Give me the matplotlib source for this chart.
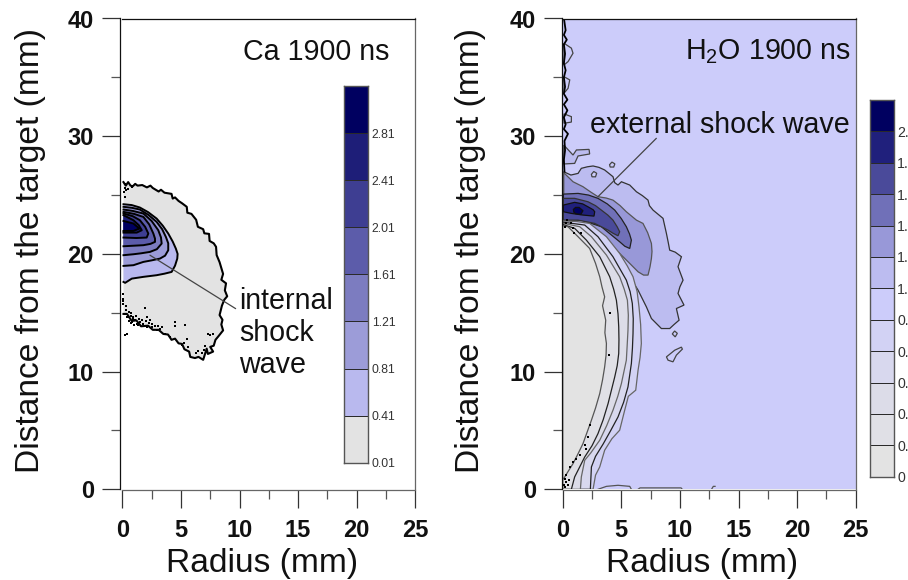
import numpy as np
import matplotlib
matplotlib.use('Agg')
import matplotlib.pyplot as plt

plt.rcParams['font.family'] = ['Liberation Sans', 'DejaVu Sans']
plt.rcParams['mathtext.default'] = 'regular'

# Ca panel : contours (radius mm, distance mm)
ca_edge = np.array([(.1, 26.1), (.3, 25.8), (.5, 26.1), (.7, 25.8), (.9, 25.75), (1.1, 25.95), (1.3, 25.8), (1.7, 25.85), (2.1, 25.65),
                    (2.4, 25.8), (2.6, 25.6), (3.1, 25.3), (3.3, 25.45), (3.6, 25.2), (4.2, 25.1), (4.3, 24.7), (4.5, 24.8), (4.8, 24.5),
                    (5.1, 24.3), (5.5, 24.0), (5.55, 23.5), (5.9, 23.4), (6.3, 22.9), (6.45, 22.3), (6.9, 22.1), (7.0, 21.75), (7.4, 21.7),
                    (7.45, 21.1), (7.8, 20.9), (8.0, 20.6), (8.05, 19.9), (8.3, 19.3), (8.6, 18.3), (8.45, 17.8), (8.85, 17.5), (8.75, 16.9),
                    (8.95, 16.4), (8.7, 16.1), (8.5, 15.6), (8.4, 15.2), (8.3, 14.8), (8.55, 14.4), (8.45, 14.0), (8.6, 13.5), (8.2, 13.0),
                    (7.95, 12.7), (7.8, 12.2), (7.5, 12.1), (7.75, 11.7), (7.3, 11.5), (7.2, 11.95), (6.9, 11.0), (6.5, 11.25), (6.2, 11.15),
                    (5.8, 11.25), (5.7, 11.7), (5.3, 11.9), (5.1, 12.35), (4.8, 12.4), (4.5, 12.8), (4.2, 12.7), (3.9, 13.15), (3.5, 13.2),
                    (3.1, 13.55), (2.6, 13.55), (2.2, 13.9), (1.6, 13.85), (1.2, 14.35), (.8, 14.3), (.4, 14.9), (.1, 14.9)])
ca_041 = np.array([(.1, 24.22), (.8, 24.15), (1.5, 23.94), (2.2, 23.55), (2.93, 23.0), (3.45, 22.4), (3.92, 21.73), (4.3, 21.05), (4.57, 20.45),
                   (4.72, 20.0), (4.69, 19.6), (4.5, 19.0), (4.21, 18.47), (3.6, 18.32), (2.93, 18.19), (1.8, 18.05), (.81, 17.9), (.24, 17.54), (.1, 17.62)])
ca_081 = np.array([(.1, 24.0), (.8, 23.92), (1.5, 23.77), (2.25, 23.3), (2.93, 22.72), (3.4, 22.1), (3.72, 21.44), (3.92, 20.9), (3.92, 20.31),
                   (3.65, 19.85), (3.21, 19.6), (2.5, 19.45), (1.8, 19.32), (.95, 19.04), (.1, 18.98)])
ca_121 = np.array([(.1, 23.77), (.9, 23.65), (1.8, 23.43), (2.5, 22.8), (3.07, 22.01), (3.3, 21.4), (3.36, 20.88), (2.95, 20.4), (2.36, 20.17),
                   (1.6, 20.05), (.95, 19.97), (.1, 19.89)])
ca_161 = np.array([(.1, 23.57), (1.0, 23.4), (1.8, 23.14), (2.3, 22.5), (2.65, 21.73), (2.79, 21.3), (2.79, 21.02), (2.4, 20.85), (1.8, 20.74), (.1, 20.65)])
ca_201 = np.array([(.1, 23.43), (.9, 23.2), (1.5, 22.86), (1.95, 22.3), (2.22, 21.73), (2.08, 21.39), (1.2, 21.35), (.1, 21.39)])
ca_241 = np.array([(.1, 23.29), (.95, 22.86), (1.4, 22.45), (1.66, 22.01), (1.23, 21.81), (.1, 21.81)])
ca_281 = np.array([(.1, 22.8), (.95, 22.58), (1.46, 22.15), (.95, 21.95), (.1, 21.95)])
ca_specks = np.array([(.24, 14.93), (.38, 14.65), (.52, 14.65), (.81, 14.22), (1.09, 14.36), (1.37, 13.94), (1.8, 14.08), (.3, 15.2), (.6, 15.05),
                      (2.08, 13.8), (2.51, 13.8), (2.93, 13.57), (3.36, 13.8), (3.64, 13.23), (4.06, 12.95), (.75, 14.75), (.95, 14.5),
                      (4.49, 14.22), (4.49, 13.85), (5.34, 13.94), (1.94, 15.44), (.24, 13.09), (.4, 13.2), (.1, 16.2), (.1, 15.78), (.1, 16.0),
                      (.1, 16.63), (5.06, 12.24), (5.48, 12.8), (5.3, 12.4), (5.6, 12.1), (7.32, 13.23), (7.75, 13.23), (7.5, 13.15), (.24, 25.98), (.18, 25.27),
                      (.52, 25.55), (.81, 25.69), (.9, 14.6), (1.5, 14.2), (.6, 14.3), (1.15, 14.7), (1.4, 14.45), (1.7, 14.4), (2.0, 14.3), (2.3, 14.15),
                      (2.55, 14.05), (2.8, 13.85), (3.05, 13.9), (3.2, 13.6), (.75, 14.1), (1.0, 13.95), (.2, 25.6), (.35, 25.4), (.7, 14.95), (2.15, 14.6),
                      (2.4, 14.4), (1.25, 14.05), (.2, 24.8), (.3, 15.6), (6.8, 11.55), (6.5, 11.75), (6.95, 11.85), (7.05, 12.2), (6.3, 11.55)])
ca_levels = [0.01, 0.41, 0.81, 1.21, 1.61, 2.01, 2.41, 2.81, 3.21]
ca_labels = ['0.01', '0.41', '0.81', '1.21', '1.61', '2.01', '2.41', '2.81', '']
ca_colors = ['#e3e3e3', '#b9b9ee', '#9c9cd8', '#7c7cc0', '#5c5caa', '#3e3e92', '#1e1e78', '#000060']

# H2O panel
w_11 = np.array([(.09, 26.98), (.7, 26.7), (1.31, 26.84), (1.59, 27.27), (2.1, 27.4), (2.59, 27.47), (3.1, 27.35), (3.58, 27.13), (4.29, 26.56), (4.44, 26.05),
                 (4.72, 25.85), (5.01, 26.13), (5.72, 25.85), (6.29, 25.28), (6.8, 24.95), (7.28, 24.57), (7.4, 24.1), (7.71, 23.72), (8.56, 23.02), (8.7, 22.4),
                 (8.85, 21.74), (9.0, 21.0), (9.13, 20.32), (9.6, 20.15), (10.13, 19.76), (9.84, 18.91), (10.27, 17.77), (10.0, 17.2), (9.84, 16.64), (10.35, 15.65),
                 (9.7, 15.36), (9.93, 14.37), (9.5, 14.0), (9.13, 13.66), (8.42, 13.66), (7.57, 14.51), (7.14, 15.5), (6.43, 16.92),
                 (5.72, 18.06), (4.86, 20.04), (3.73, 21.46), (2.3, 22.59), (.09, 23.0)])
w_13 = np.array([(.09, 26.9), (.88, 26.13), (1.73, 25.71), (2.4, 25.25), (3.01, 24.86), (3.7, 24.75), (4.29, 24.57), (4.9, 24.1), (5.43, 23.58), (6.29, 22.87),
                 (6.85, 22.59), (7.25, 21.8), (7.57, 20.89), (7.62, 20.2), (7.57, 19.61), (7.45, 18.9), (7.28, 18.2), (6.9, 18.2), (6.43, 18.48), (5.72, 19.19), (4.58, 20.32),
                 (3.44, 21.46), (2.3, 22.31), (1.17, 22.73), (.09, 22.87)])
w_15 = np.array([(.06, 25.08), (1.31, 25.14), (2.2, 25.0), (3.01, 24.72), (3.8, 24.25), (4.44, 23.72), (5.0, 23.0), (5.43, 22.31), (5.7, 21.7), (5.86, 21.17), (5.72, 20.46),
                 (5.3, 20.65), (4.86, 21.03), (4.1, 21.65), (3.3, 22.31), (1.59, 22.87), (.06, 22.87)])
w_17 = np.array([(.06, 24.72), (1.02, 24.72), (2.16, 24.43), (2.8, 24.1), (3.3, 23.72), (3.85, 23.3), (4.29, 22.87), (4.65, 22.3), (4.86, 21.88), (4.72, 21.54),
                 (4.3, 21.75), (3.87, 22.02), (2.73, 22.59), (1.31, 22.87), (.06, 22.87)])
w_19 = np.array([(.06, 24.15), (1.02, 24.38), (1.7, 24.25), (2.16, 24.0), (2.6, 23.75), (2.73, 23.58), (2.67, 23.21), (1.73, 23.3), (.74, 23.44), (.06, 23.58)])
w_21 = np.array([(.91, 23.78), (1.1, 23.95), (1.4, 23.95), (1.73, 23.67), (1.54, 23.35), (1.1, 23.42), (.95, 23.55)])
w_lobe = np.array([(.09, 29.25), (.88, 28.4), (1.17, 28.83), (2.25, 28.88), (2.3, 28.49), (1.31, 28.32), (1.02, 27.69), (.09, 27.64)])
w_low_09 = np.array([(0, 22.8), (1.2, 22.75), (2.3, 22.59), (3.73, 21.46), (4.86, 20.04), (5.5, 19.0), (6.0, 18.06), (6.35, 16.8), (6.51, 15.5), (6.65, 14.0), (6.71, 12.39), (6.6, 11.2), (6.43, 10.12),
                     (6.23, 8.42), (5.6, 7.9), (5.29, 6.72), (4.86, 5.02), (4.2, 4.3), (3.58, 3.32), (3.16, 1.9), (2.8, 1.2), (2.59, 0), (0, 0)])
w_low_07 = np.array([(0, 22.7), (1.88, 22.45), (3.01, 21.46), (4.29, 19.76), (5.43, 17.77), (5.75, 16.8), (5.94, 15.79), (6.02, 14.5), (6.0, 13.24), (5.95, 12.0), (5.86, 10.69),
                     (5.57, 8.7), (5.2, 7.4), (4.72, 6.15), (4.1, 5.0), (3.44, 3.83), (2.8, 2.8), (2.45, 1.9), (2.36, 0), (0, 0)])
w_low_05 = np.array([(0, 22.6), (1.45, 22.31), (2.45, 21.46), (3.73, 19.9), (4.86, 18.06), (5.25, 17.0), (5.52, 16.07), (5.6, 14.8), (5.57, 13.52), (5.5, 12.2), (5.43, 10.97),
                     (5.01, 8.99), (4.7, 7.9), (4.29, 6.72), (3.75, 5.4), (3.16, 4.17), (2.4, 3.1), (1.88, 2.47), (1.59, 1.05), (1.51, 0), (0, 0)])
w_low_03 = np.array([(0, 22.5), (1.02, 22.17), (2.02, 21.17), (3.16, 19.76), (4.01, 18.06), (4.35, 17.0), (4.58, 16.07), (4.72, 14.9), (4.78, 13.8), (4.8, 12.7), (4.78, 11.54),
                     (4.65, 10.5), (4.44, 9.55), (3.87, 7.28), (3.45, 5.9), (3.01, 4.73), (2.5, 3.7), (1.88, 2.75), (1.4, 1.8), (1.02, 1.05), (.74, 0), (0, 0)])
w_low_01 = np.array([(0, 22.4), (.46, 22.3), (1.31, 21.46), (2.3, 20.46), (2.8, 19.2), (3.16, 18.06), (3.35, 17.2), (3.58, 16.35), (3.4, 15.6), (3.67, 14.37), (3.6, 13.3), (3.73, 12.39),
                     (3.7, 11.4), (3.58, 10.4), (3.4, 9.3), (3.16, 8.13), (2.8, 6.9), (2.45, 5.87), (2.1, 4.9), (1.73, 3.88), (1.3, 3.0), (.88, 2.18), (.45, 1.5), (.09, .91), (0, .9)])
w_isle_a = np.array([(4.0, 27.58), (4.2, 27.8), (4.45, 27.65), (4.35, 27.38), (4.05, 27.38)])
w_isle_b = np.array([(2.45, 26.76), (2.65, 27.0), (2.9, 26.85), (2.8, 26.55), (2.5, 26.55)])
w_isle_c = np.array([(9.35, 13.2), (9.55, 13.45), (9.78, 13.25), (9.6, 12.95)])
w_isle_d = np.array([(8.85, 11.25), (9.56, 11.82), (10.13, 12.08), (10.21, 11.91), (9.7, 11.4), (9.41, 10.83), (8.99, 10.97)])
w_edge_a = np.array([(.11, 37.9), (.74, 37.48), (.88, 37.05), (.46, 36.34), (.11, 36.05)])
w_edge_b = np.array([(.11, 35.06), (.6, 34.78), (.46, 34.07), (.11, 33.65)])
w_edge_c = np.array([(.11, 31.9), (.74, 31.66), (.74, 31.2), (.11, 31.1)])
w_foot_a = np.array([(3.01, 0), (3.73, .25), (4.72, .34), (5.72, .25), (5.86, 0)])
w_foot_b = np.array([(6.43, 0), (6.6, .12), (8.0, .12), (8.3, .12), (10.1, .12), (10.2, 0)])
w_foot_c = np.array([(12.7, 0), (12.85, .25), (13.0, .25)])
w_blot = np.array([(.12, 39.9), (.25, 39.0), (.1, 38.6), (.35, 38.2), (.1, 37.8), (.2, 37.0), (.1, 36.2), (.25, 35.6), (.1, 35.0), (.2, 34.2),
                   (.1, 33.6), (.4, 33.1), (.1, 32.7), (.4, 32.2), (.1, 31.6), (.25, 31.0), (.1, 30.6), (.45, 30.2), (.15, 29.6), (.2, 28.8), (.1, 28.0), (.15, 27.0)])
w_specks = np.array([(.17, .91), (.31, .62), (.51, .77), (.11, .34), (.46, .34), (.23, .2), (.3, 1.2), (.6, 1.9), (.88, 2.32), (1.17, 2.61),
                     (1.45, 2.89), (1.88, 3.74), (2.02, 3.46), (2.16, 4.45), (2.3, 5.44), (.31, 22.6), (.88, 22.17), (1.59, 21.74),
                     (.2, 22.3), (.4, 22.9), (.7, 22.6), (1.0, 21.8), (4.0, 15.0), (3.95, 11.4)])
w_levels = [0, .19, .38, .57, .76, .95, 1.14, 1.33, 1.52, 1.71, 1.9, 2.09, 2.28]
w_labels = ['0', '0.19', '0.38', '0.57', '0.76', '0.95', '1.14', '1.33', '1.52', '1.71', '1.9', '2.09', '']
w_colors = ['#e3e3e3', '#e0e0e6', '#dcdce8', '#d8d8ee', '#d2d2f4', '#ccccfa', '#bcbcf0', '#9898d8', '#7070b8', '#4a4a9a',
            '#20207c', '#000060']

x_ticks = [0, 5, 10, 15, 20, 25]
y_ticks = [0, 10, 20, 30, 40]

W, H = 908, 580
fig = plt.figure(figsize=(W / 100, H / 100), dpi=100)


def make_axes(x0, xlab, ylab_x, off):
    ax = fig.add_axes([x0 / W, (H - 489.3) / H, 293 / W, 470.8 / H])
    # set_position remet les ticks a zero, donc a faire en premier
    ax.spines['left'].set_position(('outward', off))
    ax.spines['bottom'].set_position(('outward', .7))
    ax.spines['left'].set_color('#111111')
    ax.spines['top'].set_color('#111111')
    ax.spines['right'].set_color('#666666')
    ax.spines['bottom'].set_color('#666666')
    for s in ax.spines.values():
        s.set_linewidth(.9)
    ax.set_xlim(0, 25)
    ax.set_ylim(0, 40)
    ax.set_xticks(x_ticks, [str(v) for v in x_ticks])
    ax.set_yticks(y_ticks, [str(v) for v in y_ticks])
    ax.set_xticks(np.arange(2.5, 25, 5), minor=True)
    ax.set_yticks(np.arange(5, 40, 10), minor=True)
    ax.tick_params(which='major', length=13, width=.9, color='#333333', pad=6, labelsize=17, labelcolor='#111111')
    ax.tick_params(which='minor', length=6.5, width=.9, color='#555555')
    ax.tick_params(axis='x', which='major', pad=8)
    for t in ax.get_xticklabels() + ax.get_yticklabels():
        t.set_fontweight('bold')
    ax.set_xlabel('Radius (mm)', fontsize=24.1, color='#111111')
    ax.set_ylabel('Distance from the target (mm)', fontsize=24.1, color='#111111')
    ax.xaxis.label.set_va('baseline')
    ax.yaxis.label.set_va('baseline')
    ax.xaxis.set_label_coords(xlab, -.1757)
    ax.yaxis.set_label_coords(ylab_x, .507)
    return ax


def make_bar(x0, y0, w, h, levels, labels, colors, size, lw):
    cax = fig.add_axes([x0 / W, (H - y0 - h) / H, w / W, h / H])
    grid = np.array(levels[:-1]).reshape(-1, 1)
    cax.pcolormesh([0, 1], levels, grid, cmap=matplotlib.colors.ListedColormap(colors),
                   norm=matplotlib.colors.BoundaryNorm(levels, len(colors)), edgecolors='#2a2a2a', linewidth=lw)
    cax.set_xticks([])
    cax.yaxis.tick_right()
    cax.set_yticks(levels)
    cax.set_yticklabels(labels, fontsize=size, color='#333333')
    cax.tick_params(axis='y', length=0, pad=2.5)
    cax.set_ylim(levels[0], levels[-1])
    for s in cax.spines.values():
        s.set_color('#555555')
        s.set_linewidth(1)
    return cax


# panneau gauche
ax1 = make_axes(122.3, .4785, -.2833, 1.4)
ax1.fill(ca_edge[:, 0], ca_edge[:, 1], fc=ca_colors[0], ec='none')
ax1.plot(ca_edge[:, 0], ca_edge[:, 1], color='black', lw=1.5)
ca_polys = [ca_041, ca_081, ca_121, ca_161, ca_201, ca_241, ca_281]
for pts, col in zip(ca_polys, ca_colors[1:]):
    ax1.fill(pts[:, 0], pts[:, 1], fc=col, ec='none')
    ax1.plot(pts[:, 0], pts[:, 1], color='black', lw=1.4)
ax1.scatter(ca_specks[:, 0], ca_specks[:, 1], s=3.5, color='black', marker='s', lw=0)
ax1.annotate('', xy=(2.36, 19.89), xytext=(9.67, 15.35), arrowprops=dict(arrowstyle='-', color='#444444', lw=.9, shrinkA=0, shrinkB=0))
ax1.text(10.3, 36.5, 'Ca 1900 ns', fontsize=20.6, va='baseline', color='#111111')
ax1.text(9.96, 15.35, 'internal', fontsize=20.6, va='baseline', color='#111111')
ax1.text(9.96, 12.6, 'shock', fontsize=20.6, va='baseline', color='#111111')
ax1.text(9.96, 9.84, 'wave', fontsize=20.6, va='baseline', color='#111111')
make_bar(344.3, 86, 24, 376.7, ca_levels, ca_labels, ca_colors, 8.8, .4)

# panneau droit
ax2 = make_axes(562.7, .4754, -.2846, .4)
ax2.set_facecolor(w_colors[5])
up_polys = [w_11, w_13, w_15, w_17, w_19, w_21]
up_lines = ['#333333', '#555555', '#222222', '#333333', '#111111', '#111111']
for pts, col, lc in zip(up_polys, w_colors[6:], up_lines):
    ax2.fill(pts[:, 0], pts[:, 1], fc=col, ec=lc, lw=.9)
ax2.fill(w_lobe[:, 0], w_lobe[:, 1], fc=w_colors[6], ec='#444444', lw=.9)
low_polys = [w_low_09, w_low_07, w_low_05, w_low_03, w_low_01]
low_lines = ['#666666', '#222222', '#666666', '#222222', '#555555']
for pts, col, lc in zip(low_polys, w_colors[4::-1], low_lines):
    ax2.fill(pts[:, 0], pts[:, 1], fc=col, ec=lc, lw=.9)
for pts in [w_isle_a, w_isle_b, w_isle_c, w_isle_d, w_edge_a, w_edge_b, w_edge_c]:
    ax2.fill(pts[:, 0], pts[:, 1], fc=w_colors[5], ec='#444444', lw=.9)
for pts in [w_foot_a, w_foot_b, w_foot_c]:
    ax2.plot(pts[:, 0], pts[:, 1], color='#555555', lw=.9)
ax2.plot(w_blot[:, 0], w_blot[:, 1], color='black', lw=1.3)
ax2.scatter(w_specks[:, 0], w_specks[:, 1], s=3.5, color='black', marker='s', lw=0)
ax2.annotate('', xy=(3.01, 24.86), xytext=(7.99, 29.82), arrowprops=dict(arrowstyle='-', color='#444444', lw=.9, shrinkA=0, shrinkB=0))
ax2.text(10.41, 36.5, 'H$_2$O 1900 ns', fontsize=20.6, va='baseline', color='#111111')
ax2.text(2.3, 30.24, 'external shock wave', fontsize=20.6, va='baseline', color='#111111')
make_bar(870, 100, 23.7, 376.7, w_levels, w_labels, w_colors, 10.2, .6)

fig.savefig('out.png', dpi=100)
